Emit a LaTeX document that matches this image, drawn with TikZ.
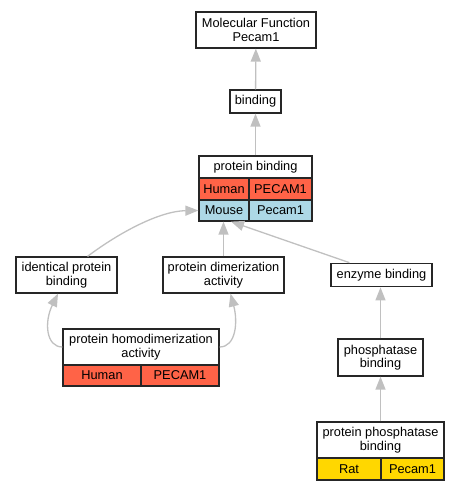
\documentclass[tikz,border=0pt]{standalone}
\usepackage{fontspec}
\setmainfont{Liberation Sans}
\usetikzlibrary{arrows.meta}
\definecolor{gohuman}{RGB}{255,99,71}
\definecolor{gomouse}{RGB}{173,216,230}
\definecolor{gorat}{RGB}{255,215,0}
\definecolor{goedge}{RGB}{192,192,192}
\tikzstyle{term} = [draw=black!85,line width=1.2bp,fill=white,inner sep=0pt,align=center,font=\fontsize{12.8bp}{13.5bp}\selectfont]
\tikzstyle{edge} = [line width=1.3bp,-{Triangle[length=13bp,width=10bp]},color=goedge]

\begin{document}
\begin{tikzpicture}[x=1bp,y=-1bp]
\useasboundingbox (0,0) rectangle (459,491);

% Top terms
\node[term, minimum width=120bp, minimum height=36bp] (mf) at (256,30) {Molecular Function\\Pecam1};
\node[term, minimum width=51bp, minimum height=23bp] (binding) at (255.5,101.5) {binding};

% Protein binding with species rows
\node[term, minimum width=113bp, minimum height=22bp] (pb) at (255.5,167) {protein binding};
\node[term, fill=gohuman, minimum width=50bp, minimum height=22bp] (pbhuman) at (224,189) {Human};
\node[term, fill=gohuman, minimum width=63bp, minimum height=22bp] (pbhumangene) at (280.5,189) {PECAM1};
\node[term, fill=gomouse, minimum width=50bp, minimum height=21bp] (pbmouse) at (224,210.5) {Mouse};
\node[term, fill=gomouse, minimum width=63bp, minimum height=21bp] (pbmousegene) at (280.5,210.5) {Pecam1};

% Middle terms
\node[term, minimum width=101bp, minimum height=36bp] (ident) at (66.5,275) {identical protein\\binding};
\node[term, minimum width=121bp, minimum height=36bp] (dimer) at (223.5,275) {protein dimerization\\activity};
\node[term, minimum width=101bp, minimum height=23.5bp] (enzyme) at (381.5,275) {enzyme binding};

% Homodimerization with species row
\node[term, minimum width=156bp, minimum height=36bp] (homo) at (141,347) {protein homodimerization\\activity};
\node[term, fill=gohuman, minimum width=78bp, minimum height=21bp] (homohuman) at (102,375.5) {Human};
\node[term, fill=gohuman, minimum width=78bp, minimum height=21bp] (homohumangene) at (180,375.5) {PECAM1};

% Phosphatase branch
\node[term, minimum width=85bp, minimum height=37bp] (phos) at (380.5,357.5) {phosphatase\\binding};
\node[term, minimum width=127bp, minimum height=36bp] (pp) at (380.5,440) {protein phosphatase\\binding};
\node[term, fill=gorat, minimum width=64bp, minimum height=22bp] (pprat) at (349,469) {Rat};
\node[term, fill=gorat, minimum width=63bp, minimum height=22bp] (ppratgene) at (412.5,469) {Pecam1};

% Edges
\draw[edge] (binding) -- (mf);
\draw[edge] (pb) -- (binding);
\draw[edge] ([xshift=21bp]ident.north) .. controls (120,232) and (160,211) .. (pbmouse.west);
\draw[edge] (dimer.north) -- (dimer.north |- pbmouse.south);
\draw[edge] ([xshift=19bp]enzyme.north west) -- ([xshift=7bp]pbmouse.south);
\draw[edge] (homo.west) .. controls (46,347) and (44,322) .. ([xshift=-8.5bp]ident.south);
\draw[edge] (homo.east) .. controls (236,347) and (238,322) .. ([xshift=7bp]dimer.south);
\draw[edge] (phos.north) -- (phos.north |- enzyme.south);
\draw[edge] (pp) -- (phos);
\end{tikzpicture}
\end{document}
